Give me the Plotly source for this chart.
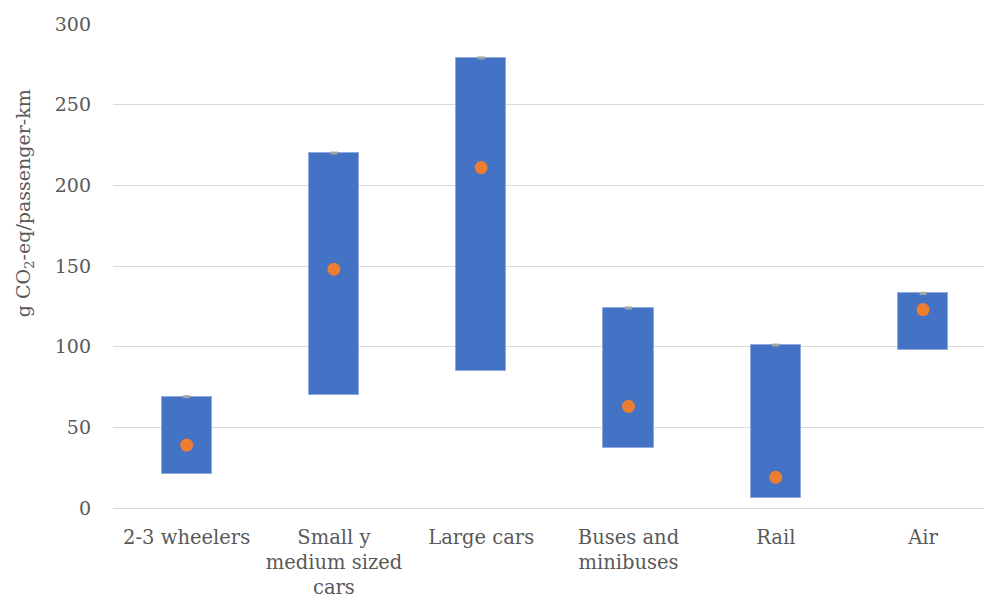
import plotly.graph_objects as go

# Life-cycle emission ranges per transport mode (g CO2-eq / passenger-km)
categories = [
    "2-3 wheelers",
    "Small y<br>medium sized<br>cars",
    "Large cars",
    "Buses and<br>minibuses",
    "Rail",
    "Air",
]
range_low = [21, 70, 85, 37, 6, 98]
range_high = [69, 220, 279, 124, 101, 133]
typical = [39, 148, 211, 63, 19, 123]

x_pos = list(range(len(categories)))

fig = go.Figure()

# Floating bar spanning low -> high
fig.add_trace(go.Bar(
    x=x_pos,
    y=[h - l for h, l in zip(range_high, range_low)],
    base=range_low,
    width=0.34,
    marker=dict(color="#4472C4", line=dict(color="#8EA9DB", width=1)),
    hoverinfo="skip",
    showlegend=False,
))

# Small grey cap marking the maximum
fig.add_trace(go.Scatter(
    x=x_pos,
    y=range_high,
    mode="markers",
    marker=dict(symbol="line-ew", size=5, line=dict(color="#A5A5A5", width=3)),
    showlegend=False,
))

# Typical value
fig.add_trace(go.Scatter(
    x=x_pos,
    y=typical,
    mode="markers",
    marker=dict(symbol="circle", size=13, color="#ED7D31"),
    showlegend=False,
))

font_family = "DejaVu Serif, Liberation Serif, serif"
text_color = "#595959"

fig.update_layout(
    width=984,
    height=602,
    margin=dict(l=113, r=0, t=24, b=94, autoexpand=False),
    plot_bgcolor="white",
    paper_bgcolor="white",
    font=dict(family=font_family, size=19, color=text_color),
    bargap=0,
)

fig.update_xaxes(
    tickmode="array",
    tickvals=x_pos,
    ticktext=categories,
    range=[-0.5, 5.414],
    showgrid=False,
    showline=False,
    zeroline=False,
    ticks="",
    ticklabelstandoff=15,
    tickfont=dict(family=font_family, size=19.5, color=text_color),
)

fig.update_yaxes(
    range=[0, 300],
    tickvals=[0, 50, 100, 150, 200, 250, 300],
    showgrid=True,
    gridcolor="#D9D9D9",
    gridwidth=1,
    zeroline=True,
    zerolinecolor="#D9D9D9",
    zerolinewidth=1,
    showline=False,
    ticks="",
    ticklabelstandoff=21,
    tickfont=dict(family=font_family, size=19, color=text_color),
)

fig.add_annotation(
    text="g CO<sub>2</sub>-eq/passenger-km",
    xref="paper", yref="paper",
    x=-0.102, y=0.63,
    xanchor="center", yanchor="middle",
    textangle=-90,
    showarrow=False,
    font=dict(family=font_family, size=19, color=text_color),
)

fig.write_html("out.html")
